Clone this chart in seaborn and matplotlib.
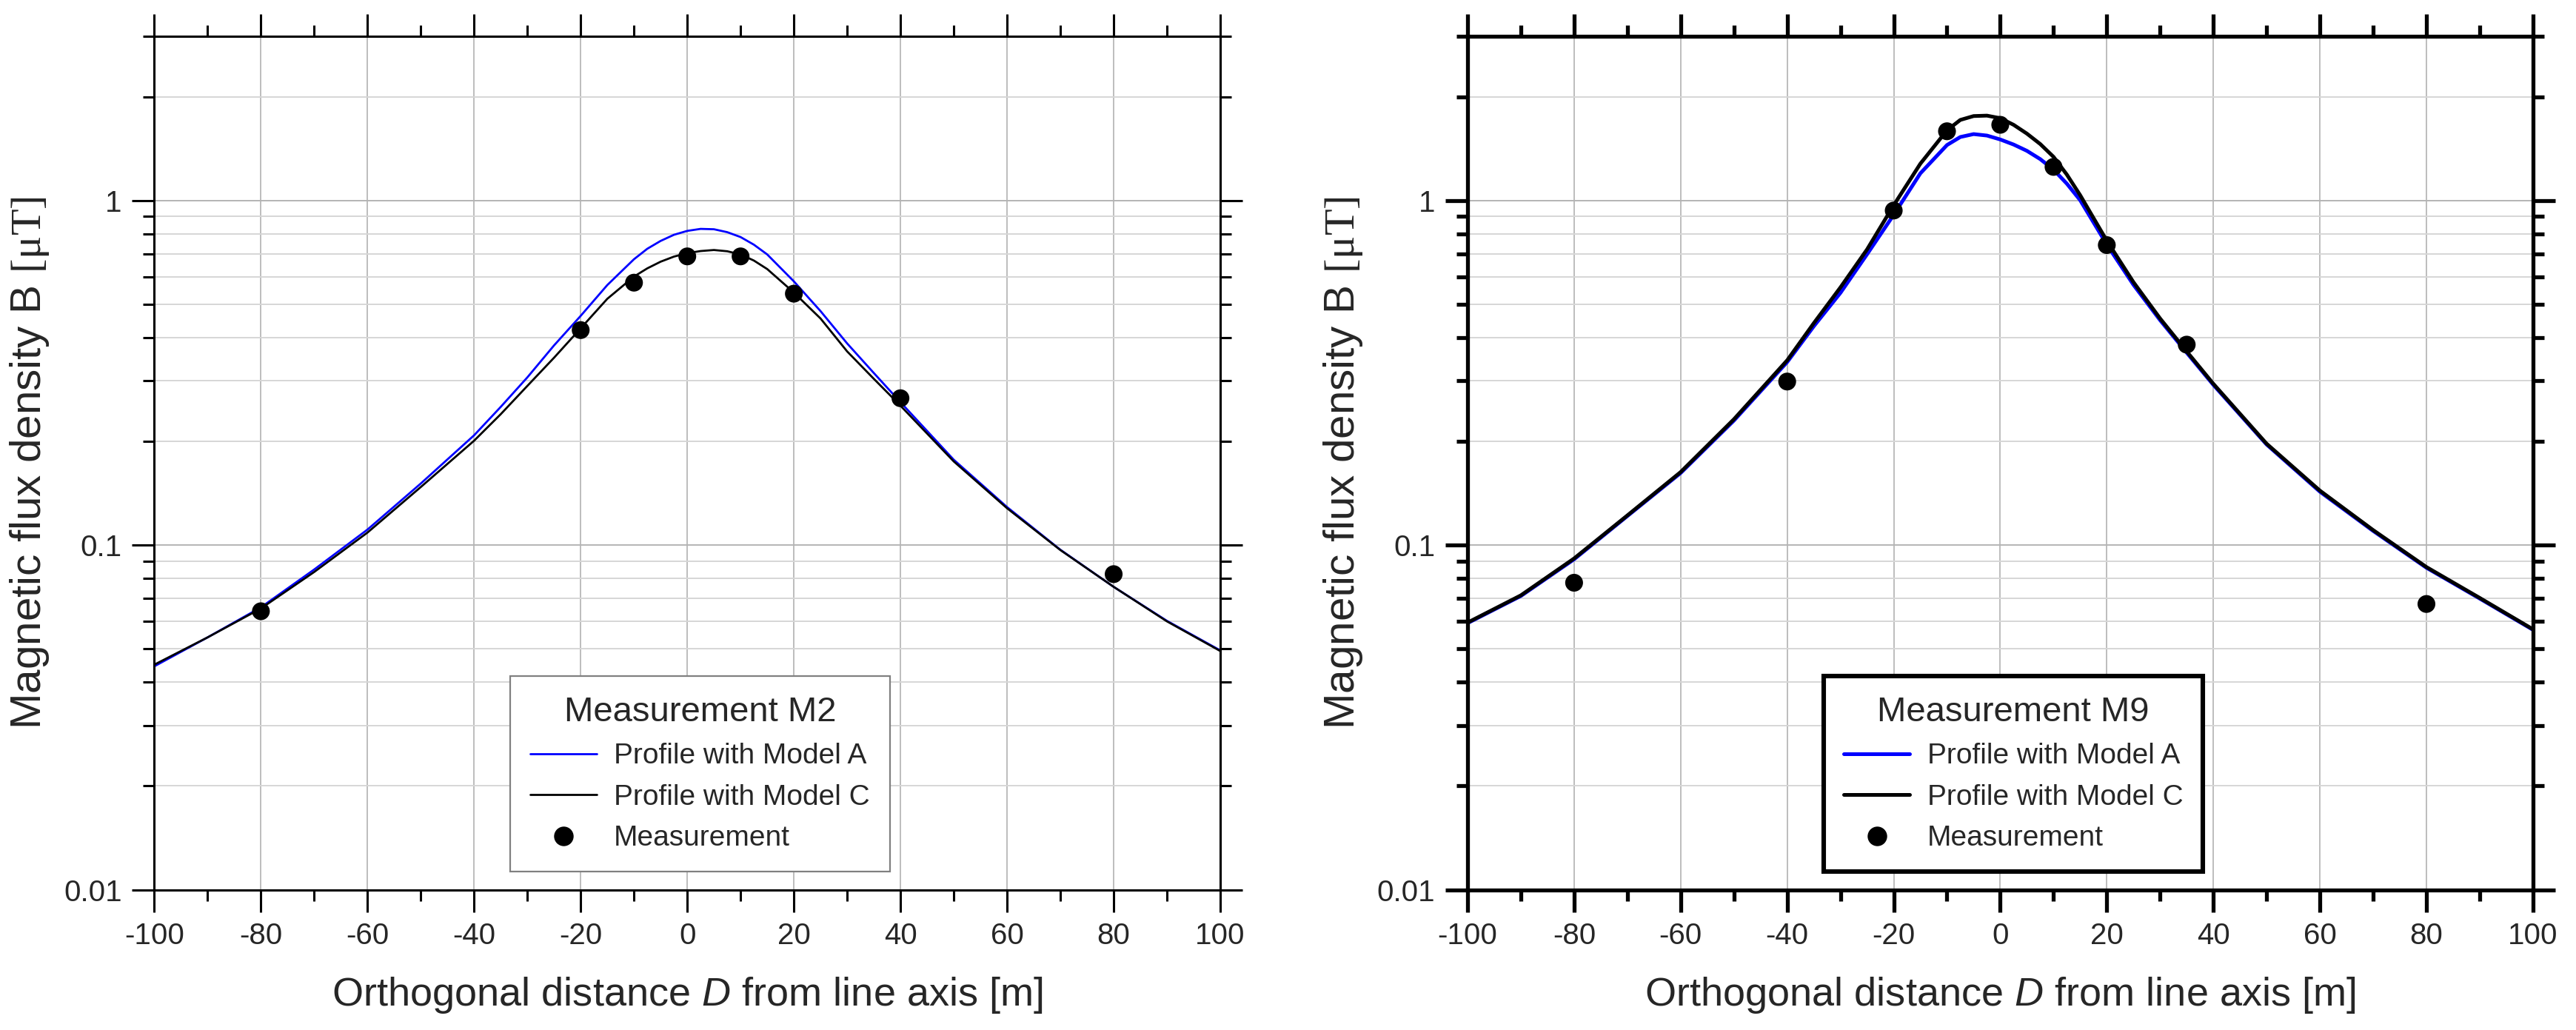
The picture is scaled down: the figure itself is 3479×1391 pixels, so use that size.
import matplotlib
matplotlib.use("Agg")
import numpy as np
import pandas as pd
import seaborn as sns
import matplotlib.pyplot as plt
from matplotlib import font_manager as fm
from matplotlib.ticker import LogLocator, MultipleLocator, FuncFormatter, NullFormatter
from matplotlib.lines import Line2D

# ---------------- data ----------------
curve_d = [-100, -90, -80, -70, -60, -50, -40, -35, -30, -25, -20, -15, -10, -7.5, -5, -2.5,
           0, 2.5, 5, 7.5, 10, 12.5, 15, 20, 25, 30, 35, 40, 50, 60, 70, 80, 90, 100]

m2_model_a = [0.0445, 0.054, 0.066, 0.085, 0.111, 0.151, 0.2084, 0.252, 0.307, 0.380, 0.463, 0.569,
              0.676, 0.725, 0.764, 0.796, 0.817, 0.828, 0.826, 0.81, 0.784, 0.745, 0.698, 0.583,
              0.478, 0.385, 0.316, 0.260, 0.177, 0.129, 0.097, 0.0757, 0.0603, 0.0495]
m2_model_c = [0.045, 0.054, 0.0655, 0.0836, 0.1088, 0.1475, 0.201, 0.240, 0.290, 0.350, 0.426, 0.519,
              0.602, 0.636, 0.665, 0.688, 0.704, 0.714, 0.719, 0.713, 0.698, 0.67, 0.633, 0.541,
              0.455, 0.365, 0.304, 0.254, 0.175, 0.128, 0.0968, 0.0757, 0.0601, 0.0493]
m2_meas_d = [-80, -20, -10, 0, 10, 20, 40, 80]
m2_meas_b = [0.0643, 0.421, 0.578, 0.689, 0.689, 0.537, 0.267, 0.0824]

m9_model_a = [0.0594, 0.0712, 0.091, 0.1215, 0.162, 0.230, 0.340, 0.432, 0.54, 0.699, 0.91, 1.20,
              1.45, 1.53, 1.56, 1.545, 1.505, 1.455, 1.395, 1.32, 1.23, 1.12, 1.003, 0.746,
              0.57, 0.45, 0.362, 0.292, 0.196, 0.143, 0.110, 0.086, 0.070, 0.0568]
m9_model_c = [0.0596, 0.0715, 0.0915, 0.122, 0.163, 0.232, 0.344, 0.441, 0.56, 0.722, 0.97, 1.28,
              1.60, 1.715, 1.76, 1.765, 1.735, 1.66, 1.565, 1.46, 1.34, 1.19, 1.037, 0.765,
              0.58, 0.455, 0.365, 0.294, 0.197, 0.144, 0.1106, 0.0864, 0.0703, 0.057]
m9_meas_d = [-80, -40, -20, -10, 0, 10, 20, 35, 80]
m9_meas_b = [0.0778, 0.2985, 0.936, 1.59, 1.66, 1.253, 0.743, 0.382, 0.0675]

label_a = "Profile with Model A"
label_c = "Profile with Model C"
label_m = "Measurement"
x_ticks = [-100, -80, -60, -40, -20, 0, 20, 40, 60, 80, 100]

# ---------------- fonts ----------------
names = {f.name for f in fm.fontManager.ttflist}
NARROW = "Liberation Sans Narrow" if "Liberation Sans Narrow" in names else "Liberation Sans"

sns.set_theme(style="white")
plt.rcParams.update({
    "font.family": [NARROW, "DejaVu Sans"],
    "mathtext.fontset": "custom",
    "mathtext.rm": "Liberation Serif",
    "mathtext.it": NARROW + ":italic",
    "mathtext.bf": NARROW + ":bold",
    "axes.edgecolor": "black",
})

BLUE = "#0000ff"
fig = plt.figure(figsize=(17.395, 6.955), dpi=200)
ax1 = fig.add_axes([0.0599, 0.1362, 0.4138, 0.8286])
ax2 = fig.add_axes([0.5697, 0.1362, 0.4136, 0.8286])


def make_panel(ax, model_a, model_c, meas_d, meas_b, title, lw_frame, lw_curve, leg_edge, leg_lw):
    ax.set_yscale("log")
    df = pd.DataFrame({
        "D": curve_d * 2,
        "B": model_a + model_c,
        "model": [label_a] * len(curve_d) + [label_c] * len(curve_d),
    })
    sns.lineplot(data=df, x="D", y="B", hue="model",
                 palette={label_a: BLUE, label_c: "black"},
                 legend=False, ax=ax, linewidth=lw_curve, estimator=None, sort=True, zorder=2)
    sns.scatterplot(x=meas_d, y=meas_b, color="black", s=75, edgecolor="none",
                    ax=ax, zorder=3, legend=False)

    ax.set_xlim(-100, 100)
    ax.set_ylim(0.01, 3)
    ax.xaxis.set_major_locator(MultipleLocator(20))
    ax.xaxis.set_minor_locator(MultipleLocator(10))
    ax.set_xticks(x_ticks)
    ax.set_xticklabels([str(v) for v in x_ticks])
    ax.yaxis.set_major_locator(LogLocator(base=10, numticks=10))
    ax.yaxis.set_minor_locator(LogLocator(base=10, subs=np.arange(2, 10), numticks=20))
    ax.yaxis.set_major_formatter(FuncFormatter(lambda v, p: f"{v:g}"))
    ax.yaxis.set_minor_formatter(NullFormatter())

    for sp in ax.spines.values():
        sp.set_visible(True)
        sp.set_linewidth(lw_frame)
        sp.set_color("black")

    ax.tick_params(which="both", direction="out", top=True, right=True,
                   bottom=True, left=True, labeltop=False, labelright=False,
                   width=lw_frame, color="black")
    ax.tick_params(which="major", length=10.8, labelsize=14.5, pad=5)
    ax.tick_params(which="minor", length=5.4)

    ax.set_axisbelow(True)
    ax.xaxis.grid(True, which="major", color="#bdbdbd", linewidth=0.7)
    ax.xaxis.grid(False, which="minor")
    ax.yaxis.grid(True, which="major", color="#b4b4b4", linewidth=0.7)
    ax.yaxis.grid(True, which="minor", color="#d6d6d6", linewidth=0.7)

    ax.set_xlabel("Orthogonal distance $\\mathit{D}$ from line axis [m]", fontsize=19.5, labelpad=12)
    ax.set_ylabel("Magnetic flux density B $\\mathrm{[\u03bcT]}$", fontsize=21, labelpad=6,
                  fontfamily=["Liberation Sans", "DejaVu Sans"])

    handles = [Line2D([], [], color=BLUE, lw=lw_curve),
               Line2D([], [], color="black", lw=lw_curve),
               Line2D([], [], color="black", marker="o", ls="none", markersize=8.5)]
    leg = ax.legend(handles, [label_a, label_c, label_m], title=title,
                    loc="lower left", bbox_to_anchor=(0.334, 0.021), borderaxespad=0,
                    fontsize=14, title_fontsize=17, frameon=True, fancybox=False,
                    framealpha=1, edgecolor=leg_edge, handlelength=2.3, handletextpad=0.6,
                    labelspacing=0.5, borderpad=0.7)
    leg.get_frame().set_linewidth(leg_lw)
    leg._legend_box.align = "center"


make_panel(ax1, m2_model_a, m2_model_c, m2_meas_d, m2_meas_b, "Measurement M2",
           lw_frame=1.1, lw_curve=1.0, leg_edge="#808080", leg_lw=0.8)
make_panel(ax2, m9_model_a, m9_model_c, m9_meas_d, m9_meas_b, "Measurement M9",
           lw_frame=1.9, lw_curve=1.8, leg_edge="black", leg_lw=2.2)

fig.savefig("out.png", dpi=200)
